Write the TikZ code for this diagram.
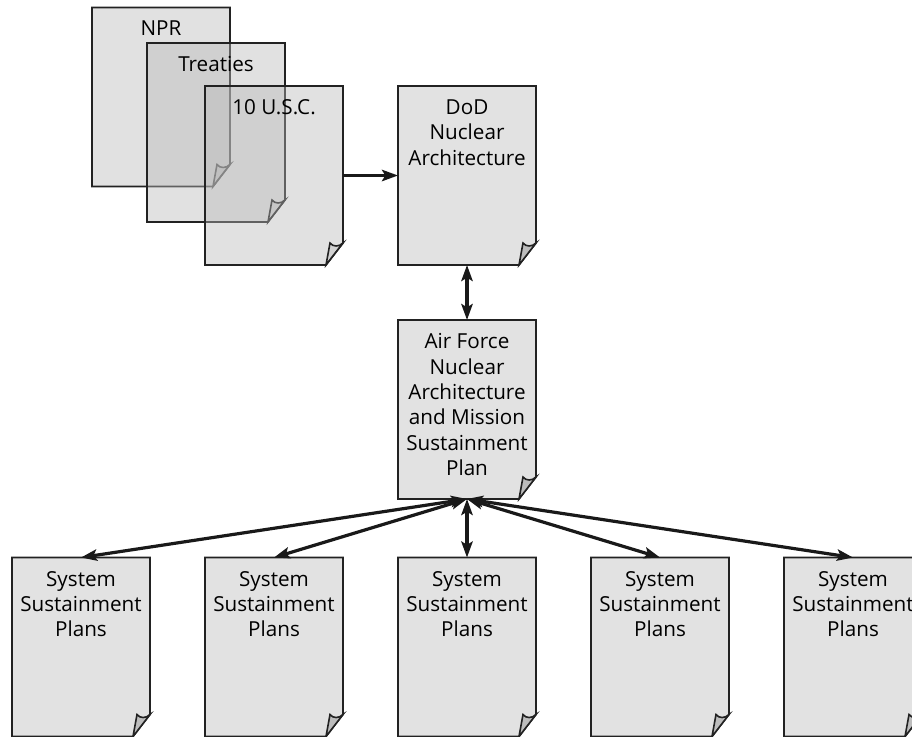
\documentclass[tikz,border=0pt]{standalone}
\usepackage{fontspec}
\setmainfont{Open Sans}
\usepackage{tikz}
\usetikzlibrary{positioning,arrows.meta}

\definecolor{pagegray}{HTML}{E2E2E2}
\definecolor{stackgray}{gray}{0.72}
\definecolor{curlgray}{HTML}{BDBDBD}
\definecolor{edgegray}{HTML}{222222}

\tikzset{
  pagebox/.style={draw=none,inner sep=0pt,outer sep=0pt,minimum width=103.5pt,minimum height=134.25pt},
  solidpage/.style={draw=edgegray,line width=1.2pt,line join=miter,fill=pagegray},
  stackpage/.style={draw=edgegray,line width=1.2pt,line join=miter,fill=stackgray,fill opacity=0.42},
  curl/.style={fill=curlgray},
  doctext/.style={inner sep=0pt,align=center,text=black,font=\fontsize{15.5pt}{19pt}\selectfont},
  link/.style={line width=2.4pt,draw=black!90,{Stealth[length=12pt,width=8.5pt,inset=2.5pt]}-{Stealth[length=12pt,width=8.5pt,inset=2.5pt]}},
  feed/.style={line width=2.4pt,draw=black!90,-{Stealth[length=12pt,width=8.5pt,inset=2.5pt]}}
}

% page with a curled corner: name, centre, look, label
\newcommand{\docpage}[4]{%
  \node[pagebox] (#1) at (#2) {};
  \draw[#3] (#1.north west) -- (#1.north east) -- ([yshift=-16.5pt]#1.south east) -- ([xshift=-12.75pt]#1.south east) -- (#1.south west) -- cycle;
  \draw[#3,curl] ([yshift=-16.5pt]#1.south east) .. controls ([xshift=-3pt,yshift=-13.5pt]#1.south east) and ([xshift=-7.5pt,yshift=-13.5pt]#1.south east) .. ([xshift=-9.75pt,yshift=-16.5pt]#1.south east) -- ([xshift=-12.75pt]#1.south east) -- cycle;
  \node[doctext,below=10pt of #1.north] (#1-text) {#4};
}

\begin{document}
\begin{tikzpicture}[x=0.75pt,y=0.75pt,yscale=-1,xscale=1]
	\useasboundingbox (0,0) rectangle (912,736);
	
	%Shape: stacked source documents
	\docpage{npr}{161,97}{stackpage}{NPR}
	\docpage{treaties}{216,132.5}{stackpage}{Treaties}
	\docpage{usc}{274,175.5}{stackpage}{10 U.S.C.}
	
	%Shape: architecture documents
	\docpage{dod}{467,175.5}{solidpage}{DoD\\Nuclear\\Architecture}
	\docpage{afplan}{467,409.5}{solidpage}{Air Force\\Nuclear\\Architecture\\and Mission\\Sustainment\\Plan}
	
	%Shape: system sustainment plans
	\docpage{sysA}{81,647}{solidpage}{System\\Sustainment\\Plans}
	\docpage{sysB}{274,647}{solidpage}{System\\Sustainment\\Plans}
	\docpage{sysC}{467,647}{solidpage}{System\\Sustainment\\Plans}
	\docpage{sysD}{660,647}{solidpage}{System\\Sustainment\\Plans}
	\docpage{sysE}{853,647}{solidpage}{System\\Sustainment\\Plans}
	
	% Connectors
	\draw[feed] (usc.east) -- (dod.west);
	\draw[link] (dod.south) -- (afplan.north);
	\draw[link] (afplan.south) -- (sysA.north);
	\draw[link] (afplan.south) -- (sysB.north);
	\draw[link] (afplan.south) -- (sysC.north);
	\draw[link] (afplan.south) -- (sysD.north);
	\draw[link] (afplan.south) -- (sysE.north);
	
\end{tikzpicture}
\end{document}
